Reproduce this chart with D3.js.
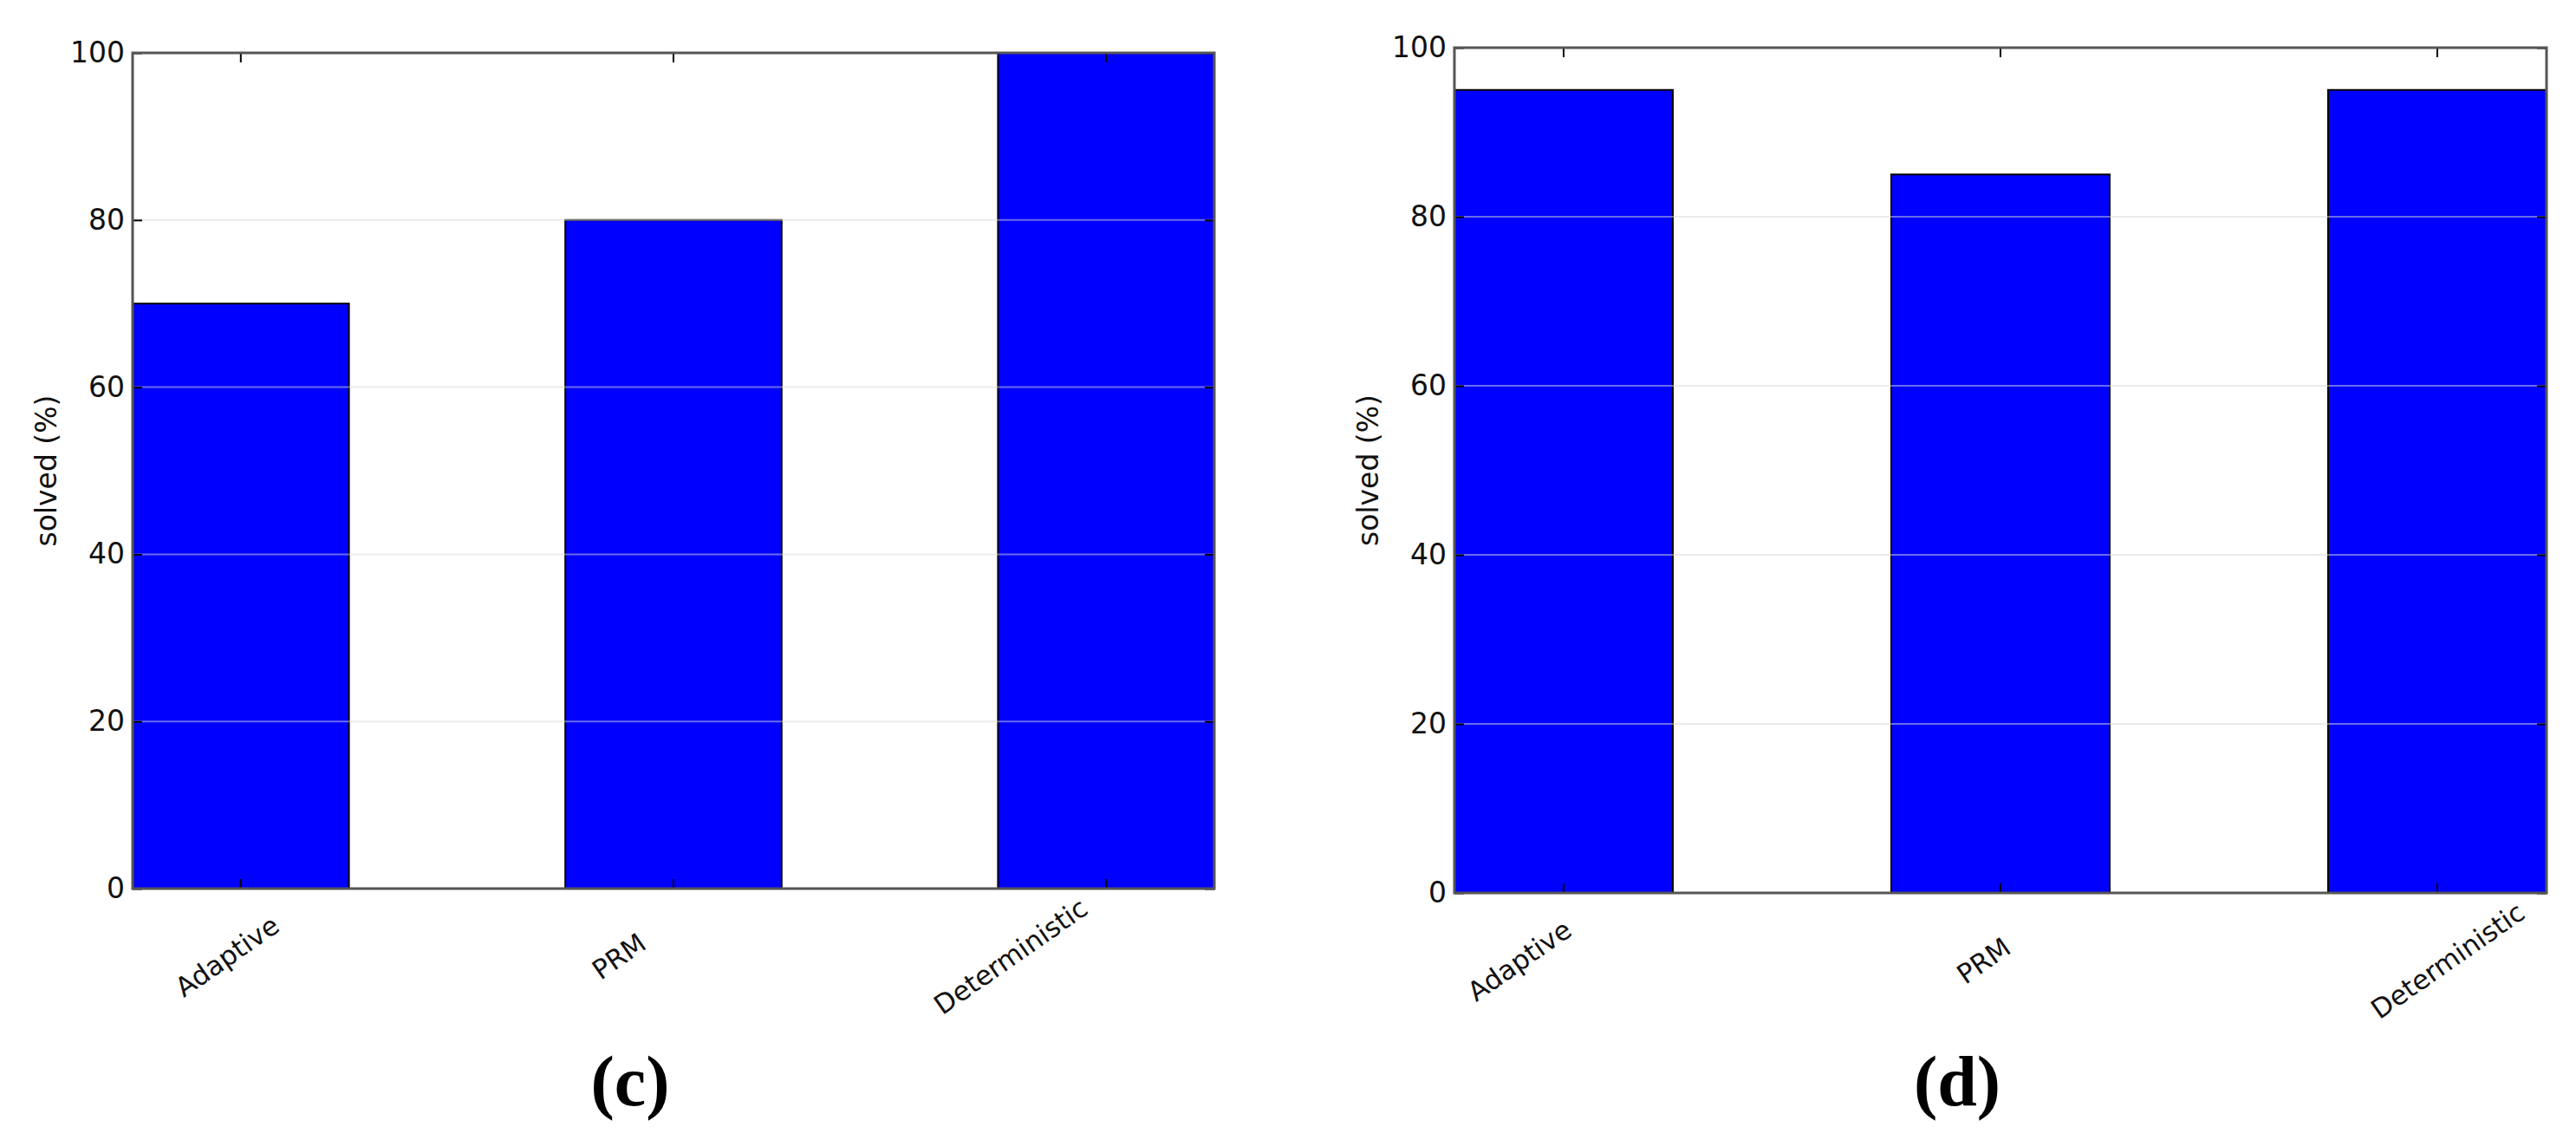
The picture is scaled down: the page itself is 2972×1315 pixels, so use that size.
<!DOCTYPE html>
<html>
<head>
    <title>solved (%) - panels (c) and (d)</title>
    <script src="https://d3js.org/d3.v7.min.js"></script>
    <style>
        body { margin: 0; background: #fff; }
        svg { display: block; }
        .tick text { font-family: "DejaVu Sans", sans-serif; }
    </style>
</head>
<body>
    <svg width="2972" height="1315"></svg>

    <script>
        // categories and values
        const methods = ["Adaptive", "PRM", "Deterministic"];
        const solvedC = [70, 80, 100];
        const solvedD = [95, 85, 95];
        const yTicks = [0, 20, 40, 60, 80, 100];
        const gridTicks = [20, 40, 60, 80];
        const panelLabels = ["(c)", "(d)"];

        const svg = d3.select("svg");

        // panel boxes in page pixels
        const panels = [
            { values: solvedC, label: panelLabels[0], left: 153, right: 1401, top: 61, bottom: 1025, labelFrom: 109, labelTo: 1013 },
            { values: solvedD, label: panelLabels[1], left: 1678, right: 2938, top: 55, bottom: 1030, labelFrom: 75, labelTo: 1146 }
        ];

        panels.forEach(p => {
            const data = methods.map((m, i) => ({ method: m, value: p.values[i] }));

            const x = d3.scaleBand()
                .domain(methods)
                .range([p.left, p.right])
                .paddingInner(0.5)
                .paddingOuter(0);

            const y = d3.scaleLinear()
                .domain([0, 100])
                .range([p.bottom, p.top]);

            // where the rotated names sit
            const xLabel = d3.scalePoint()
                .domain(methods)
                .range([p.left + p.labelFrom, p.left + p.labelTo]);

            const g = svg.append("g");

            // bars
            g.selectAll("rect.bar")
                .data(data)
                .enter().append("rect")
                .attr("class", "bar")
                .attr("x", d => x(d.method))
                .attr("y", d => y(d.value))
                .attr("width", x.bandwidth())
                .attr("height", d => y(0) - y(d.value))
                .attr("fill", "#0000ff")
                .attr("stroke", "#000")
                .attr("stroke-width", 2);

            // grid lines over the bars
            g.selectAll("line.grid")
                .data(gridTicks)
                .enter().append("line")
                .attr("class", "grid")
                .attr("x1", p.left)
                .attr("x2", p.right)
                .attr("y1", d => y(d))
                .attr("y2", d => y(d))
                .attr("stroke", "#d8d8d8")
                .attr("stroke-opacity", 0.5)
                .attr("stroke-width", 2);

            // inward ticks on all four sides
            const left = g.append("g")
                .attr("transform", `translate(${p.left},0)`)
                .call(d3.axisLeft(y).tickValues(yTicks).tickSize(-11).tickPadding(9));
            const right = g.append("g")
                .attr("transform", `translate(${p.right},0)`)
                .call(d3.axisRight(y).tickValues(yTicks).tickSize(-11).tickFormat(""));
            const bottom = g.append("g")
                .attr("transform", `translate(0,${p.bottom})`)
                .call(d3.axisBottom(x).tickSize(-11).tickFormat(""));
            const top = g.append("g")
                .attr("transform", `translate(0,${p.top})`)
                .call(d3.axisTop(x).tickSize(-11).tickFormat(""));

            [left, right, bottom, top].forEach(a => {
                a.select(".domain").remove();
                a.selectAll(".tick line").attr("stroke", "#000").attr("stroke-width", 2);
            });
            left.selectAll(".tick text")
                .attr("font-size", 33)
                .attr("fill", "#111");

            // frame
            g.append("rect")
                .attr("x", p.left)
                .attr("y", p.top)
                .attr("width", p.right - p.left)
                .attr("height", p.bottom - p.top)
                .attr("fill", "none")
                .attr("stroke", "#555")
                .attr("stroke-width", 3);

            // rotated category names
            g.selectAll("text.cat")
                .data(methods)
                .enter().append("text")
                .attr("class", "cat")
                .attr("transform", d => `translate(${xLabel(d)},${p.bottom + 78}) rotate(-35)`)
                .attr("text-anchor", "middle")
                .attr("dominant-baseline", "central")
                .attr("font-family", "DejaVu Sans, sans-serif")
                .attr("font-size", 31)
                .attr("fill", "#111")
                .text(d => d);

            // y axis title
            g.append("text")
                .attr("transform", `translate(${p.left - 100},${(p.top + p.bottom) / 2}) rotate(-90)`)
                .attr("text-anchor", "middle")
                .attr("dominant-baseline", "central")
                .attr("font-family", "DejaVu Sans, sans-serif")
                .attr("font-size", 33)
                .attr("fill", "#111")
                .text("solved (%)");

            // panel letter
            svg.append("text")
                .attr("x", (p.left + p.right) / 2 - 50)
                .attr("y", 1275)
                .attr("text-anchor", "middle")
                .attr("font-family", "Liberation Serif, serif")
                .attr("font-weight", "bold")
                .attr("font-size", 82)
                .attr("fill", "#000")
                .text(p.label);
        });
    </script>
</body>
</html>
